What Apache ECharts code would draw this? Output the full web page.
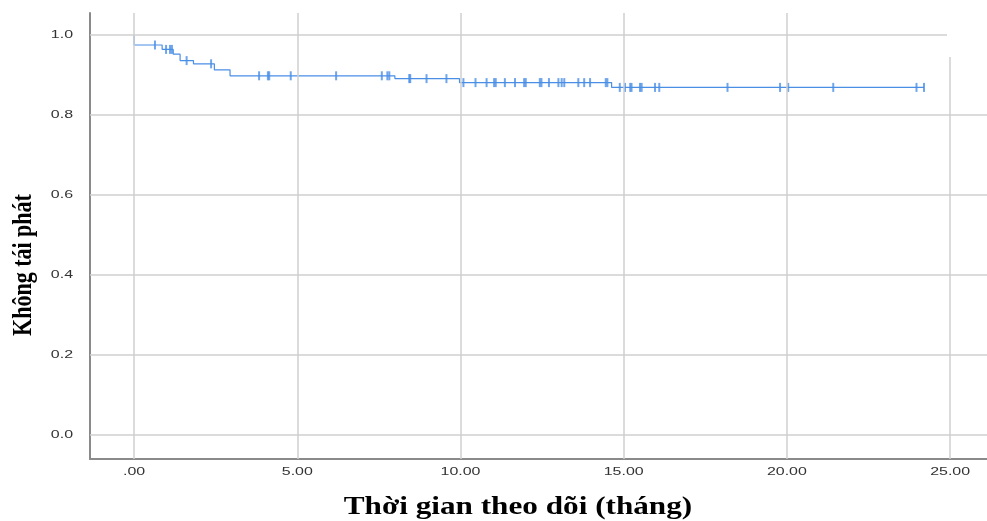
<!DOCTYPE html>
<html>
<head>
<meta charset="utf-8">
<script src="https://cdn.jsdelivr.net/npm/echarts@6/dist/echarts.min.js"></script>
<style>
  html, body { margin: 0; padding: 0; background: #fff; }
  #main { width: 987px; height: 521px; }
</style>
</head>
<body>
<div id="main"></div>
<script>
// Kaplan-Meier steps: time (months) and survival after the event
const eventTimes = [0, 0, 0.86, 1.2, 1.41, 1.82, 2.46, 2.94, 7.99, 9.97, 14.63, 24.2];
const survival = [1.0, 0.975, 0.964, 0.952, 0.936, 0.928, 0.913, 0.898, 0.891, 0.881, 0.869, 0.869];

// censored observations (months)
const censorTimes = [
  0.64, 0.98, 1.1, 1.16, 1.61, 2.36, 3.83, 4.1, 4.14, 4.8, 6.19, 7.59, 7.76, 7.82,
  8.43, 8.46, 8.96, 9.57, 10.09, 10.46, 10.8, 11.03, 11.08, 11.36, 11.67, 11.95, 12.0,
  12.43, 12.48, 12.71, 13.0, 13.1, 13.18, 13.61, 13.79, 13.97, 14.45, 14.5,
  14.88, 15.04, 15.2, 15.24, 15.5, 15.55, 15.96, 16.09, 18.18, 19.79, 20.04,
  21.42, 23.97, 24.2
];

const xTicks = [0, 5, 10, 15, 20, 25];
const xTickLabels = ['.00', '5.00', '10.00', '15.00', '20.00', '25.00'];
const yTicks = [0, 0.2, 0.4, 0.6, 0.8, 1.0];
const yTickLabels = ['0.0', '0.2', '0.4', '0.6', '0.8', '1.0'];

function survivalAt(t) {
  let s = survival[0];
  for (let i = 0; i < eventTimes.length; i++) {
    if (eventTimes[i] <= t) s = survival[i];
  }
  return s;
}

const kmData = eventTimes.map((t, i) => [t, survival[i]]);
const censorData = censorTimes.map(t => [t, survivalAt(t)]);

const chart = echarts.init(document.getElementById('main'));

const gridColor = '#cfcfcf';
const curveColor = '#4a8ee6';
const labelFont = '11px "Liberation Sans"';

const option = {
  animation: false,
  backgroundColor: '#ffffff',
  grid: { left: 90, right: 0, top: 13, bottom: 62 },
  xAxis: {
    type: 'value',
    min: -1.35,
    max: 26.13,
    axisLine: { show: true, onZero: false, lineStyle: { color: '#8a8a8a', width: 2 } },
    axisTick: { show: false },
    splitLine: { show: false },
    axisLabel: { show: false }
  },
  yAxis: {
    type: 'value',
    min: -0.06,
    max: 1.055,
    axisLine: { show: true, onZero: false, lineStyle: { color: '#8a8a8a', width: 2 } },
    axisTick: { show: false },
    splitLine: { show: false },
    axisLabel: { show: false }
  },
  series: [
    {
      type: 'line',
      step: 'end',
      data: kmData,
      showSymbol: false,
      lineStyle: { color: curveColor, width: 1.2 },
      z: 3,
      markLine: {
        silent: true,
        symbol: 'none',
        label: { show: false },
        lineStyle: { color: gridColor, width: 1.5, type: 'solid' },
        data: xTicks.map(v => ({ xAxis: v })).concat(yTicks.map(v => ({ yAxis: v })))
      }
    },
    {
      type: 'scatter',
      data: censorData,
      symbol: 'rect',
      symbolSize: [2, 9],
      itemStyle: { color: curveColor },
      z: 4
    }
  ]
};

chart.setOption(option);

// tick labels: placed through the axis scales, stretched like the original export
const axisBottom = chart.convertToPixel({ yAxisIndex: 0 }, -0.06);
const axisLeft = chart.convertToPixel({ xAxisIndex: 0 }, -1.35);

const tickGraphics = [];
xTicks.forEach((v, i) => {
  tickGraphics.push({
    type: 'text',
    x: chart.convertToPixel({ xAxisIndex: 0 }, v),
    y: axisBottom + 13,
    scaleX: 1.45,
    style: {
      text: xTickLabels[i],
      font: labelFont,
      fill: '#333',
      align: 'center',
      verticalAlign: 'middle'
    }
  });
});
yTicks.forEach((v, i) => {
  tickGraphics.push({
    type: 'text',
    x: axisLeft - 17,
    y: chart.convertToPixel({ yAxisIndex: 0 }, v),
    scaleX: 1.45,
    style: {
      text: yTickLabels[i],
      font: labelFont,
      fill: '#333',
      align: 'right',
      verticalAlign: 'middle'
    }
  });
});

chart.setOption({
  graphic: tickGraphics.concat([
    {
      type: 'rect',
      left: 947, top: 0,
      shape: { width: 40, height: 57 },
      style: { fill: '#ffffff' },
      z: 100
    },
    {
      type: 'text',
      x: 518, y: 507,
      scaleX: 1.2,
      style: {
        text: 'Thời gian theo dõi (tháng)',
        font: 'bold 26px "Liberation Serif"',
        fill: '#000',
        align: 'center',
        verticalAlign: 'middle'
      }
    },
    {
      type: 'text',
      x: 24, y: 265,
      rotation: Math.PI / 2,
      scaleY: 1.2,
      style: {
        text: 'Không tái phát',
        font: 'bold 22px "Liberation Serif"',
        fill: '#000',
        align: 'center',
        verticalAlign: 'middle'
      }
    }
  ])
});
</script>
</body>
</html>
